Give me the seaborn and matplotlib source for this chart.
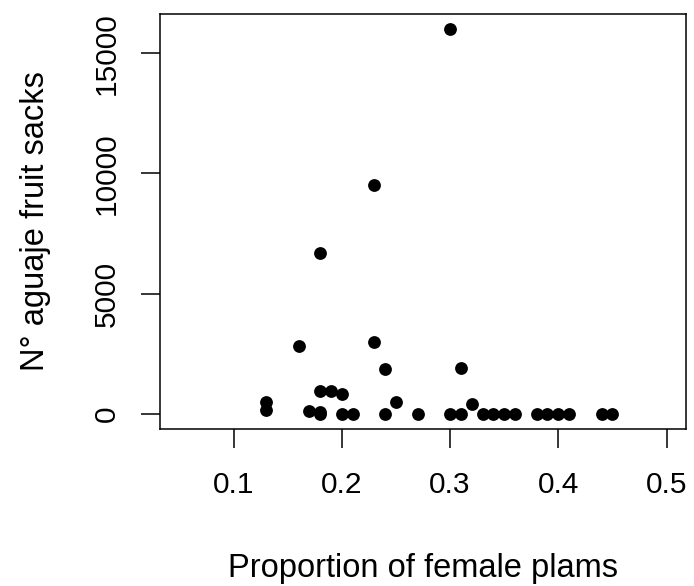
import numpy as np
import pandas as pd
import matplotlib
matplotlib.use("Agg")
import matplotlib.pyplot as plt
import seaborn as sns

# values
prop_female = [0.30, 0.23, 0.18, 0.23, 0.16, 0.24, 0.31, 0.18, 0.19, 0.20,
               0.13, 0.13, 0.25, 0.32, 0.17, 0.18, 0.18, 0.20, 0.21, 0.24,
               0.27, 0.30, 0.31, 0.33, 0.34, 0.35, 0.36, 0.38, 0.39, 0.40,
               0.41, 0.44, 0.45]
fruit_sacks = [16000, 9500, 6700, 3000, 2800, 1850, 1900, 950, 920, 820,
               500, 130, 500, 400, 110, 60, 0, 0, 0, 0,
               0, 0, 0, 0, 0, 0, 0, 0, 0, 0,
               0, 0, 0]
x_ticks = [0.1, 0.2, 0.3, 0.4, 0.5]
y_ticks = [0, 5000, 10000, 15000]

df = pd.DataFrame({"prop": prop_female, "sacks": fruit_sacks})

sns.set_style("white")
plt.rcParams['font.family'] = ['Liberation Sans', 'DejaVu Sans']

fig = plt.figure(figsize=(6.94, 5.86), dpi=100)
ax = fig.add_axes([0.2305, 0.268, 0.758, 0.708])

sns.scatterplot(data=df, x="prop", y="sacks", color="black", s=85,
                edgecolor="black", linewidth=0, ax=ax)

ax.set_xlim(0.032, 0.518)
ax.set_ylim(-640, 16640)
ax.set_xticks(x_ticks)
ax.set_xticklabels([str(t) for t in x_ticks])
ax.set_yticks(y_ticks)
ax.set_yticklabels([str(t) for t in y_ticks], rotation=90, va="center")

for sp in ax.spines.values():
    sp.set_color("black")
    sp.set_linewidth(1.1)
ax.tick_params(axis="both", direction="out", length=13.5, width=1.1,
               color="black", labelcolor="black", labelsize=21.5,
               bottom=True, left=True)
ax.tick_params(axis="x", pad=16.5)
ax.tick_params(axis="y", pad=15)

ax.set_xlabel("Proportion of female plams", fontsize=23.5, labelpad=39,
              color="black")
ax.set_ylabel("N° aguaje fruit sacks", fontsize=23.5, labelpad=30,
              color="black")

fig.savefig("out.png", dpi=100)
